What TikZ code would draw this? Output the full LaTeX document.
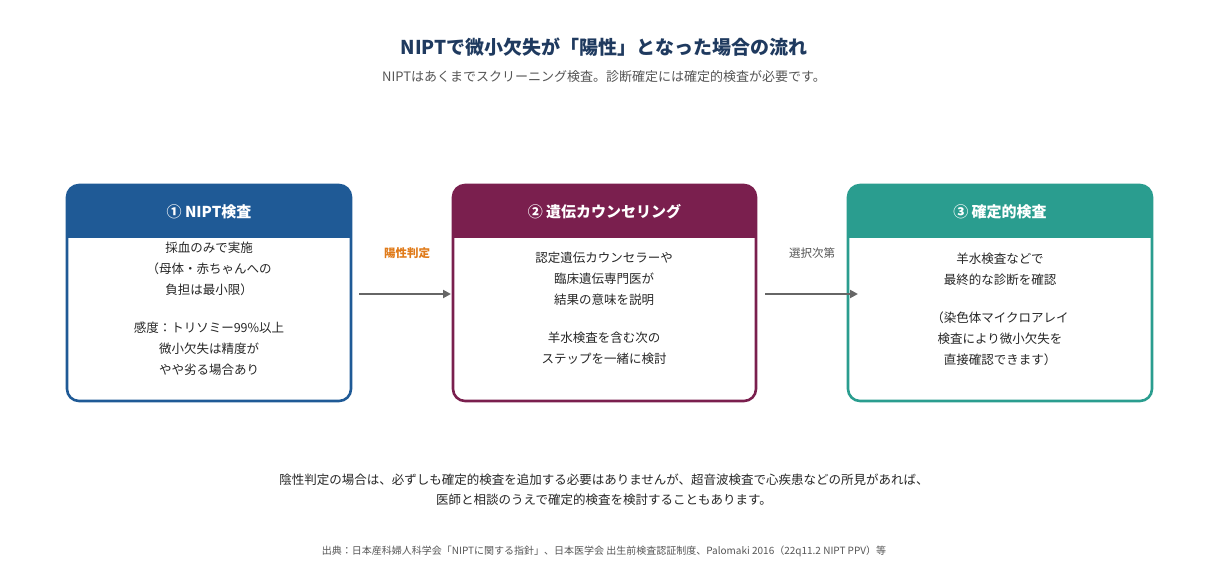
\documentclass[tikz,border=0pt]{standalone}
\usepackage{fontspec}
\setmainfont{Noto Sans CJK JP}
\usetikzlibrary{arrows.meta}
\definecolor{cblue}{HTML}{1F5A96}
\definecolor{cred}{HTML}{7A1F4E}
\definecolor{cteal}{HTML}{2A9D8F}
\definecolor{navy}{HTML}{1F3A5F}
\definecolor{tgrey}{HTML}{555555}
\definecolor{ora}{HTML}{E07B1A}
\tikzset{
 body/.style={font=\fontsize{12.5}{21}\selectfont, align=center, text=black!85},
 head/.style={font=\bfseries\fontsize{15}{18}\selectfont, text=white},
 arr/.style={-{Triangle[length=8pt,width=8pt]}, line width=2.2pt, draw=tgrey!90},
}
\newcommand{\stepbox}[5]{% x1 x2 color name header
 \begin{scope}
 \clip[rounded corners=12pt] (#1,185) rectangle (#2,401);
 \fill[#3] (#1,185) rectangle (#2,238);
 \end{scope}
 \draw[#3, line width=2.6pt, rounded corners=12pt] (#1,185) rectangle (#2,401);
 \node[head] (#4) at ({(#1+#2)/2},212) {#5};
}
\begin{document}
\begin{tikzpicture}[x=1pt,y=-1pt]
\useasboundingbox (0,0) rectangle (1209,588);
\node[font=\bfseries\fontsize{19}{22}\selectfont, text=navy] (title) at (604,47) {NIPTで微小欠失が「陽性」となった場合の流れ};
\node[font=\fontsize{13}{16}\selectfont, text=tgrey] (sub) at (604,77) {NIPTはあくまでスクリーニング検査。診断確定には確定的検査が必要です。};
\stepbox{67}{351}{cblue}{h1}{① NIPT検査}
\stepbox{453}{756}{cred}{h2}{② 遺伝カウンセリング}
\stepbox{848}{1152}{cteal}{h3}{③ 確定的検査}
\node[body] (b1) at (209,309) {採血のみで実施\\（母体・赤ちゃんへの\\負担は最小限）\\[17pt]感度：トリソミー99\%以上\\微小欠失は精度が\\やや劣る場合あり};
\node[body] (b2) at (604,308) {認定遺伝カウンセラーや\\臨床遺伝専門医が\\結果の意味を説明\\[17pt]羊水検査を含む次の\\ステップを一緒に検討};
\node[body] (b3) at (1000,309) {羊水検査などで\\最終的な診断を確認\\[17pt]（染色体マイクロアレイ\\検査により微小欠失を\\直接確認できます）};
\coordinate (a1s) at (359,294); \coordinate (a1e) at (451,294);
\coordinate (a2s) at (765,294); \coordinate (a2e) at (858,294);
\draw[arr] (a1s) -- (a1e);
\draw[arr] (a2s) -- (a2e);
\node[font=\bfseries\fontsize{11.5}{14}\selectfont, text=ora] (l1) at (407,253) {陽性判定};
\node[font=\fontsize{11.5}{14}\selectfont, text=tgrey] (l2) at (812,253) {選択次第};
\node[font=\fontsize{12.5}{20}\selectfont, align=center, text=black!85] (note) at (604,490) {陰性判定の場合は、必ずしも確定的検査を追加する必要はありませんが、超音波検査で心疾患などの所見があれば、\\医師と相談のうえで確定的検査を検討することもあります。};
\node[font=\fontsize{10}{12}\selectfont, text=tgrey] (src) at (604,551) {出典：日本産科婦人科学会「NIPTに関する指針」、日本医学会 出生前検査認証制度、Palomaki 2016（22q11.2 NIPT PPV）等};
\end{tikzpicture}
\end{document}
